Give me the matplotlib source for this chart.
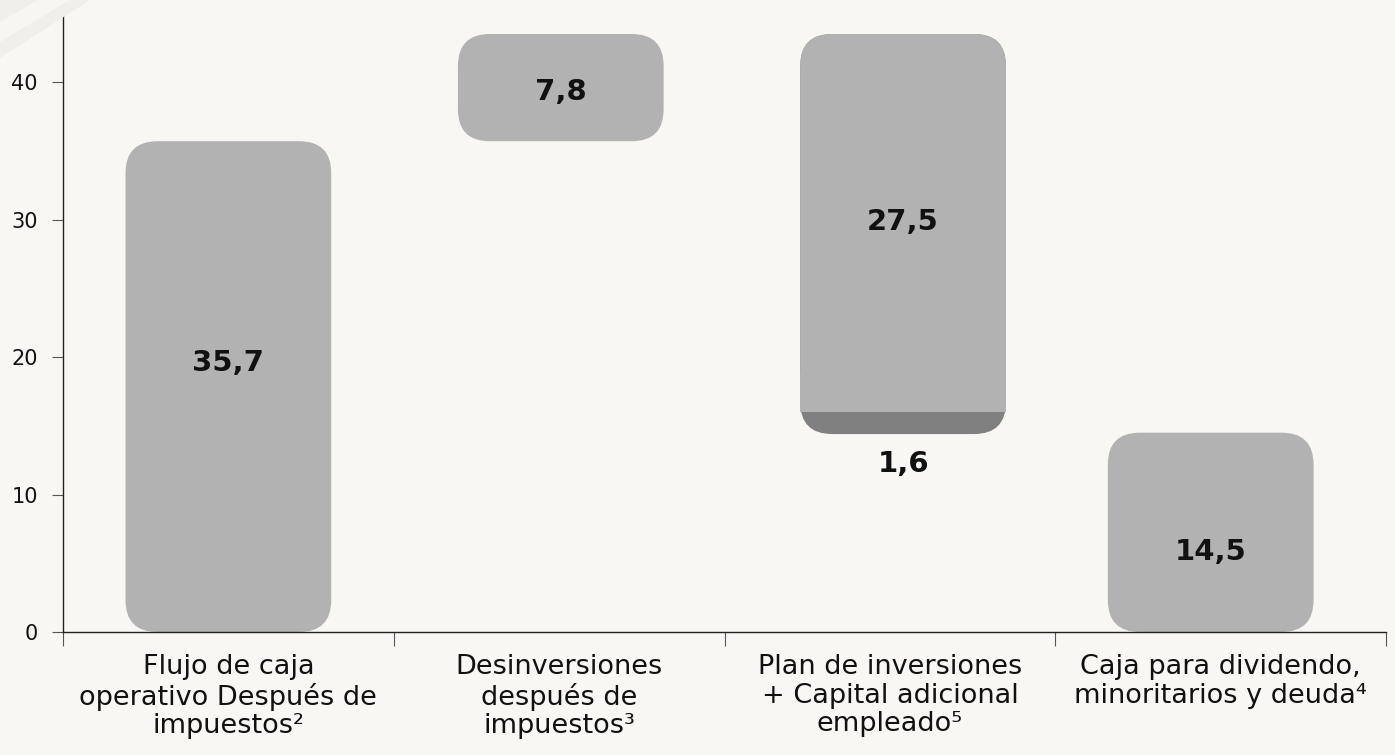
import matplotlib
matplotlib.use("Agg")
import matplotlib.pyplot as plt
from matplotlib.patches import FancyBboxPatch, Rectangle, Polygon

categories = ["Flujo de caja\noperativo Después de\nimpuestos²",
              "Desinversiones\ndespués de\nimpuestos³",
              "Plan de inversiones\n+ Capital adicional\nempleado⁵",
              "Caja para dividendo,\nminoritarios y deuda⁴"]
flujo = 35.7
desinversiones = 7.8
plan_inversiones = 27.5
capital_adicional = 1.6
caja_final = 14.5
labels = ["35,7", "7,8", "27,5", "1,6", "14,5"]
yticks = [0, 10, 20, 30, 40]

# styling: small horizontal shifts of the bars and label anchors (as in reference)
bar_shift = [0.0, 0.005, 0.04, -0.03]
label_y = [19.6, 39.3, 29.8, 12.2, 5.8]

BG = "#f9f7f3"
LIGHT = "#b2b2b2"
DARK = "#808080"

W, H = 1395, 755
fig = plt.figure(figsize=(W / 100, H / 100), dpi=100, facecolor=BG)

# faint decorative corner swoosh
fig.patches.append(Polygon([(0, 1), (90 / W, 1), (0, 1 - 58 / H)], closed=True,
                           transform=fig.transFigure, fc="#f1efeb", ec="none", zorder=0))
fig.patches.append(Polygon([(38 / W, 1), (70 / W, 1), (0, 1 - 42 / H), (0, 1 - 22 / H)], closed=True,
                           transform=fig.transFigure, fc="#f7f6f3", ec="none", zorder=0))

ax = fig.add_axes([63 / W, 1 - 632 / H, (1386 - 63) / W, (632 - 12) / H])
ax.set_facecolor("none")
ax.set_xlim(-0.5, 3.5)
ax.set_ylim(0, 45.1)

px_x = (1386 - 63) / 4.0
px_y = (632 - 12) / 45.1
r_px = 32
rx = r_px / px_x
aspect = px_x / px_y
bw = 0.622


def rbox(x, y0, y1, color, z=2):
    p = FancyBboxPatch((x - bw / 2, y0), bw, y1 - y0,
                       boxstyle=f"round,pad=0,rounding_size={rx}",
                       mutation_aspect=aspect, fc=color, ec="none", zorder=z)
    ax.add_patch(p)


xs = [i + s for i, s in enumerate(bar_shift)]
rbox(xs[0], 0, flujo, LIGHT)
top = flujo + desinversiones
rbox(xs[1], flujo, top, LIGHT)
mid = top - plan_inversiones
low = mid - capital_adicional
rbox(xs[2], low, top, DARK, z=2)
rbox(xs[2], mid, top, LIGHT, z=3)
ax.add_patch(Rectangle((xs[2] - bw / 2, mid), bw, r_px / px_y + 0.5, fc=LIGHT, ec="none", zorder=3))
rbox(xs[3], 0, caja_final, LIGHT)

kw = dict(ha="center", va="center", fontsize=21, fontweight="bold", color="#111111", zorder=5)
lx = [xs[0], xs[1], xs[2], xs[2], xs[3]]
for x, y, t in zip(lx, label_y, labels):
    ax.text(x, y, t, **kw)

for s in ["top", "right"]:
    ax.spines[s].set_visible(False)
for s in ["left", "bottom"]:
    ax.spines[s].set_color("#222222")
    ax.spines[s].set_linewidth(1.0)

ax.set_yticks(yticks)
ax.set_yticklabels([str(v) for v in yticks], fontsize=15, color="#111111")
ax.tick_params(axis="y", length=8, width=0.8, color="#555555", pad=10)

ax.set_xticks([-0.5, 0.5, 1.5, 2.5, 3.5])
ax.set_xticklabels([])
ax.set_xticks([0, 1, 2, 3], minor=True)
ax.set_xticklabels(categories, minor=True, fontsize=19.5, color="#111111", linespacing=1.12)
ax.tick_params(axis="x", which="major", length=10, width=0.8, color="#555555")
ax.tick_params(axis="x", which="minor", length=0, pad=16)

fig.savefig("out.png", dpi=100, facecolor=BG)
